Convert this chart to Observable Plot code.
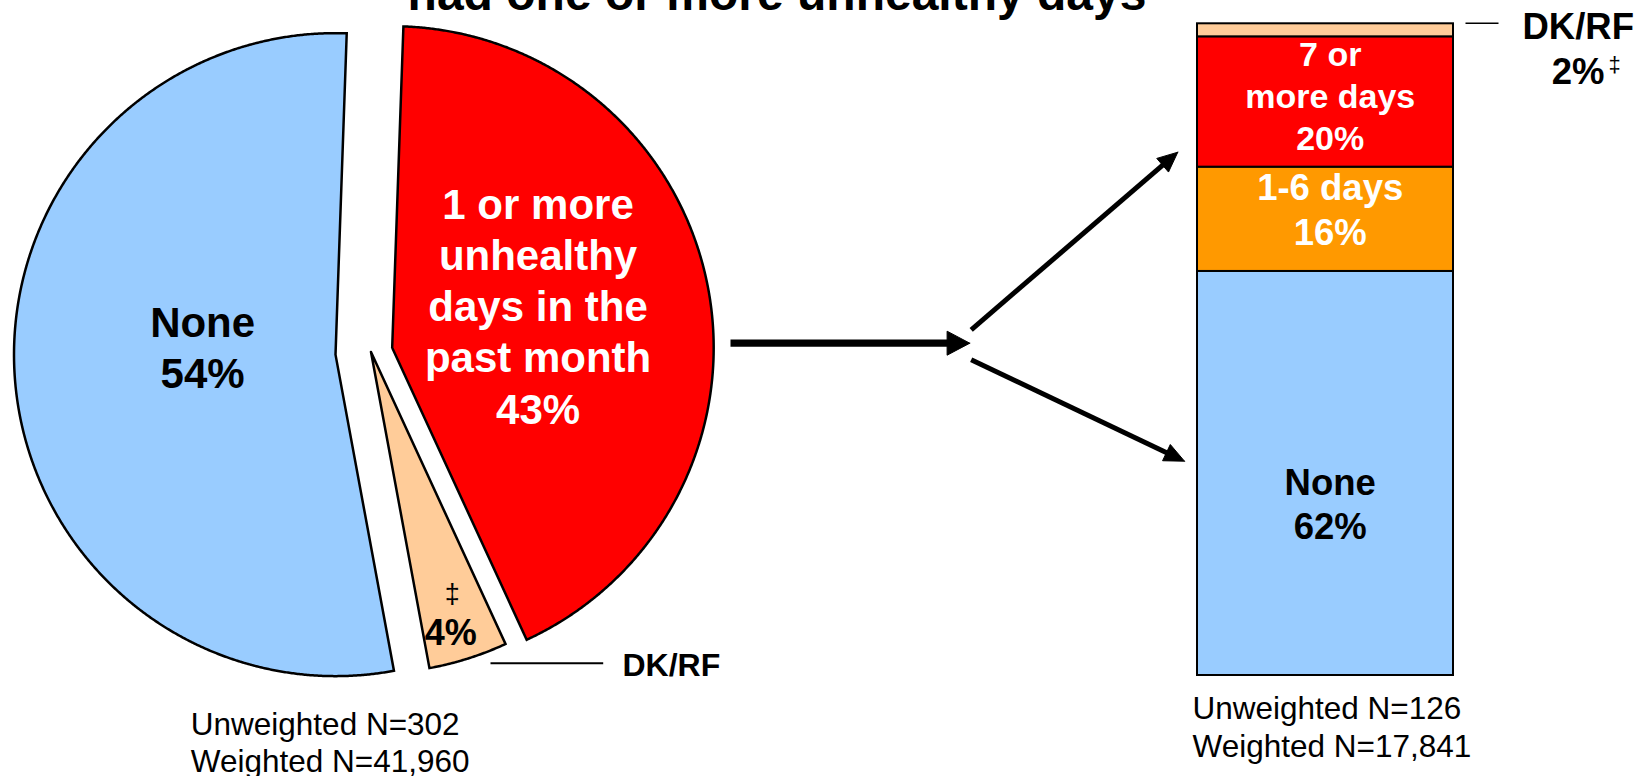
<!DOCTYPE html>
<html><head><meta charset="utf-8">
<script src="https://cdn.jsdelivr.net/npm/d3@7"></script>
<script src="https://cdn.jsdelivr.net/npm/@observablehq/plot@0.6"></script>
<style>
html,body{margin:0;padding:0;background:#fff;overflow:hidden;}
#chart{position:relative;width:1637px;height:776px;}
#chart svg{position:absolute;left:0;top:0;}
</style></head><body><div id="chart"></div>
<script>
// ---------- data ----------
const titleText = "had one or more unhealthy days";

const pieCategories = ["1 or more unhealthy days in the past month", "DK/RF", "None"];
const pieValues = [43, 4, 54];
const pieLabels = ["1 or more\nunhealthy\ndays in the\npast month\n43%", "4%", "None\n54%"];
const pieColors = ["#FF0000", "#FFCC99", "#99CCFF"];
const pieSample = ["Unweighted N=302", "Weighted N=41,960"];

const barCategories = ["None", "1-6 days", "7 or more days", "DK/RF"];
const barValues = [62, 16, 20, 2];
const barLabels = ["None\n62%", "1-6 days\n16%", "7 or\nmore days\n20%", "DK/RF\n2%"];
const barColors = ["#99CCFF", "#FF9900", "#FF0000", "#FFCC99"];
const barSample = ["Unweighted N=126", "Weighted N=17,841"];

const footnoteMark = "\u2021";

// ---------- layout ----------
const W = 1637, H = 776;
const FONT = "Liberation Sans, Arial, Helvetica, sans-serif";
const PIE_CX = 370.5, PIE_CY = 351.5, PIE_R = 321.5;
const PIE_START = 2 * Math.PI / 180;
const explode = [0.0672, 0, 0.1107];
const pieLabelPos = [[74.2, 0.54], [164.15, 0.909], [272, 0.524]]; // angle deg, radius fraction
const BAR_X = [1197.3, 1453.3], BAR_Y = [675, 23.3];

const container = document.getElementById("chart");

// ---------- pie ----------
const arcs = d3.pie().sort(null).startAngle(PIE_START).endAngle(PIE_START + 2 * Math.PI)(pieValues);
const piePts = [];
arcs.forEach((a, i) => {
  const cat = pieCategories[i];
  const mid = (a.startAngle + a.endAngle) / 2;
  const ox = explode[i] * Math.sin(mid), oy = explode[i] * Math.cos(mid);
  piePts.push({cat, x: ox, y: oy});
  const n = Math.ceil((a.endAngle - a.startAngle) / (0.25 * Math.PI / 180));
  for (let k = 0; k <= n; k++) {
    const t = a.startAngle + (a.endAngle - a.startAngle) * k / n;
    piePts.push({cat, x: ox + Math.sin(t), y: oy + Math.cos(t)});
  }
  piePts.push({cat, x: ox, y: oy});
});
const pieText = pieLabels.map((t, i) => {
  const [ang, r] = pieLabelPos[i];
  const rad = ang * Math.PI / 180;
  return {cat: pieCategories[i], text: t, x: r * Math.sin(rad), y: r * Math.cos(rad)};
});

const pie = Plot.plot({
  width: W, height: H, margin: 0,
  style: {background: "transparent", overflow: "visible"},
  x: {domain: [-1, 1], range: [PIE_CX - PIE_R, PIE_CX + PIE_R], axis: null},
  y: {domain: [-1, 1], range: [PIE_CY + PIE_R, PIE_CY - PIE_R], axis: null},
  color: {domain: pieCategories, range: pieColors},
  marks: [
    Plot.line(piePts, {x: "x", y: "y", z: "cat", fill: "cat", stroke: "black", strokeWidth: 2.5, strokeLinejoin: "miter", strokeMiterlimit: 10}),
    Plot.text([pieText[0]], {x: "x", y: "y", text: "text", fill: "white", fontSize: 42, fontWeight: "bold", fontFamily: FONT, lineHeight: 1.221}),
    Plot.text([pieText[2]], {x: "x", y: "y", text: "text", fill: "black", fontSize: 42, fontWeight: "bold", fontFamily: FONT, lineHeight: 1.202}),
    Plot.text([pieText[1]], {x: "x", y: "y", text: "text", fill: "black", fontSize: 36, fontWeight: "bold", fontFamily: FONT}),
    Plot.text([pieText[1]], {x: "x", y: "y", text: () => footnoteMark, fill: "black", fontSize: 27, fontFamily: FONT, dx: 1.4, dy: -38.6})
  ]
});
container.appendChild(pie);

// ---------- bar ----------
let acc = 0;
const barRows = barCategories.map((c, i) => {
  const r = {group: "all", cat: c, value: barValues[i], label: barLabels[i], mid: acc + barValues[i] / 2};
  acc += barValues[i];
  return r;
});
const bar = Plot.plot({
  width: W, height: H, margin: 0,
  style: {background: "transparent", overflow: "visible"},
  x: {type: "band", domain: ["all"], range: BAR_X, padding: 0, axis: null},
  y: {domain: [0, 100], range: BAR_Y, axis: null},
  color: {domain: barCategories, range: barColors},
  marks: [
    Plot.barY(barRows, {x: "group", y: "value", fill: "cat", stroke: "black", strokeWidth: 2, inset: 0}),
    Plot.text([barRows[0]], {x: "group", y: "mid", text: "label", fill: "black", fontSize: 36.5, fontWeight: "bold", fontFamily: FONT, lineHeight: 1.195, dx: 4.7, dy: 29.8}),
    Plot.text([barRows[1]], {x: "group", y: "mid", text: "label", fill: "white", fontSize: 36.5, fontWeight: "bold", fontFamily: FONT, lineHeight: 1.233, dx: 4.7, dy: -11.4}),
    Plot.text([barRows[2]], {x: "group", y: "mid", text: "label", fill: "white", fontSize: 34, fontWeight: "bold", fontFamily: FONT, lineHeight: 1.226, dx: 4.7, dy: -7.5}),
    Plot.text([barRows[3]], {x: "group", y: "mid", text: "label", fill: "black", fontSize: 36.5, fontWeight: "bold", fontFamily: FONT, lineHeight: 1.233, dx: 252.7, dy: 16.6}),
    Plot.text([barRows[3]], {x: "group", y: "mid", text: () => footnoteMark, fill: "black", fontSize: 22, fontFamily: FONT, textAnchor: "start", dx: 283, dy: 34.5})
  ]
});
container.appendChild(bar);

// ---------- annotations (arrows, leaders, title, sample sizes) ----------
const arrows = [
  {x1: 730, y1: 342.7, x2: 969.3, y2: 342.7, w: 7.3, hl: 22.7, hw: 12},
  {x1: 970.7, y1: 329.3, x2: 1177.3, y2: 151.7, w: 5, hl: 20, hw: 9},
  {x1: 970.7, y1: 359.3, x2: 1184, y2: 460.7, w: 5, hl: 20, hw: 9}
];
const shafts = [], heads = [];
arrows.forEach((a, i) => {
  const dx = a.x2 - a.x1, dy = a.y2 - a.y1, L = Math.hypot(dx, dy);
  const ux = dx / L, uy = dy / L, nx = -uy, ny = ux;
  const bx = a.x2 - a.hl * ux, by = a.y2 - a.hl * uy;
  shafts.push({x1: a.x1, y1: a.y1, x2: bx + 2 * ux, y2: by + 2 * uy, w: a.w});
  heads.push({id: i, x: a.x2, y: a.y2}, {id: i, x: bx + a.hw * nx, y: by + a.hw * ny}, {id: i, x: bx - a.hw * nx, y: by - a.hw * ny}, {id: i, x: a.x2, y: a.y2});
});
const leaders = [
  {x1: 490, y1: 662.7, x2: 602.7, y2: 662.7, w: 2},
  {x1: 1465, y1: 22.7, x2: 1498, y2: 22.7, w: 1.5}
];

const notes = Plot.plot({
  width: W, height: H, margin: 0,
  style: {background: "transparent", overflow: "visible"},
  x: {type: "identity", axis: null},
  y: {type: "identity", axis: null},
  marks: [
    Plot.link(shafts, {x1: "x1", y1: "y1", x2: "x2", y2: "y2", stroke: "black", strokeWidth: d => d.w, strokeLinecap: "butt"}),
    Plot.line(heads, {x: "x", y: "y", z: "id", fill: "black", stroke: "black", strokeWidth: 1, strokeLinejoin: "miter"}),
    Plot.link(leaders, {x1: "x1", y1: "y1", x2: "x2", y2: "y2", stroke: "black", strokeWidth: d => d.w}),
    Plot.text([titleText], {x: 776.5, y: 9, text: d => d, fontSize: 48, fontWeight: "bold", fontFamily: FONT, fill: "black", lineAnchor: "bottom"}),
    Plot.text([pieCategories[1]], {x: 622, y: 675.5, text: d => d, fontSize: 32, fontWeight: "bold", fontFamily: FONT, fill: "black", textAnchor: "start", lineAnchor: "bottom"}),
    Plot.text([pieSample.join("\n")], {x: 190.3, y: 771, text: d => d, fontSize: 31.5, fontFamily: FONT, fill: "black", textAnchor: "start", lineAnchor: "bottom", lineHeight: 1.15}),
    Plot.text([barSample.join("\n")], {x: 1192, y: 756.7, text: d => d, fontSize: 31.5, fontFamily: FONT, fill: "black", textAnchor: "start", lineAnchor: "bottom", lineHeight: 1.197})
  ]
});
container.appendChild(notes);
</script></body></html>
